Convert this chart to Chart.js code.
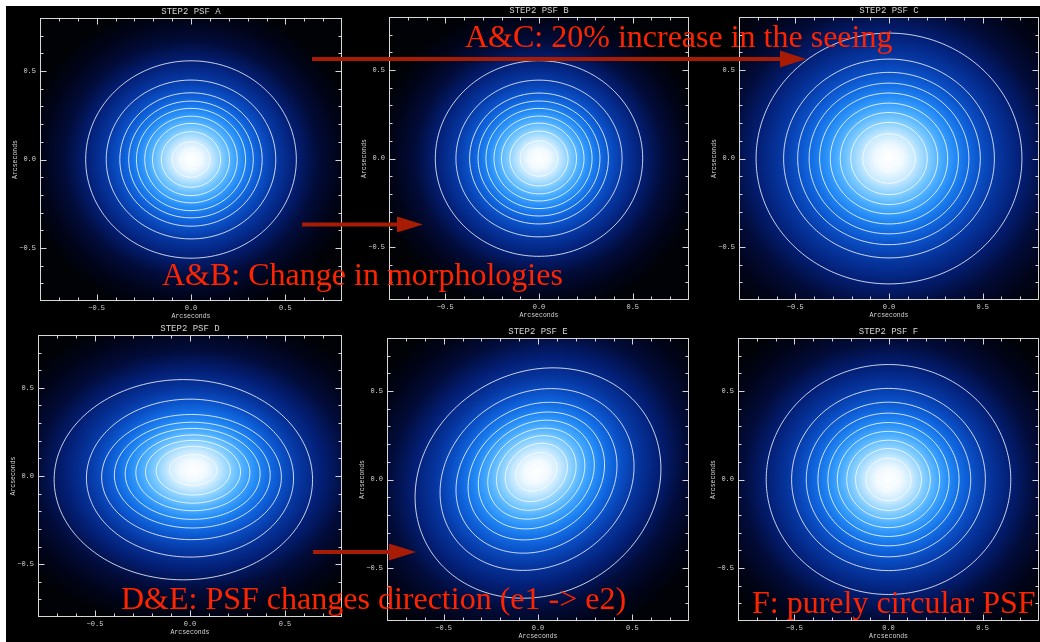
<!DOCTYPE html>
<html>
<head>
<meta charset="utf-8">
<script src="https://cdn.jsdelivr.net/npm/chart.js@4.4.1/dist/chart.umd.min.js"></script>
<style>
  html, body { margin: 0; padding: 0; background: #000; width: 1040px; height: 642px; overflow: hidden; }
  canvas.panel { position: absolute; }
  #edgeTop { position: absolute; left: 0; top: 0; width: 1040px; height: 6px; background: #fff; z-index: 3; }
  #edgeLeft { position: absolute; left: 0; top: 0; width: 6px; height: 642px; background: #fff; z-index: 3; }
  #notes { position: absolute; left: 0; top: 0; z-index: 2; }
  #notes text { font-family: "Liberation Serif", "Times New Roman", serif; font-size: 32px; fill: #ff2400; }
</style>
</head>
<body>
<div id="edgeTop"></div>
<div id="edgeLeft"></div>

<svg id="notes" width="1040" height="642">
  <g fill="#a81c06" stroke="none">
    <rect x="312" y="57" width="470" height="4"/>
    <polygon points="780,50.5 806,59 780,67.5"/>
    <rect x="302" y="222.5" width="97" height="4"/>
    <polygon points="397,216.5 423,224.5 397,232.5"/>
    <rect x="313" y="550" width="78" height="4"/>
    <polygon points="389,543.5 416,552 389,560.5"/>
  </g>
  <text x="465" y="47">A&amp;C: 20% increase in the seeing</text>
  <text x="162" y="285">A&amp;B: Change in morphologies</text>
  <text x="121" y="609">D&amp;E: PSF changes direction (e1 -&gt; e2)</text>
  <text x="752" y="613">F: purely circular PSF</text>
</svg>

<script>
// PSF panels, axes in arcseconds
const panelLabels = ['A', 'B', 'C', 'D', 'E', 'F'];
const axisMin = -0.8;
const axisMax = 0.8;
const majorTicks = [-0.5, 0, 0.5];
const minorTicks = [-0.7, -0.6, -0.5, -0.4, -0.3, -0.2, -0.1, 0, 0.1, 0.2, 0.3, 0.4, 0.5, 0.6, 0.7];

// peak position of each PSF (arcsec)
const peakX = [0, 0, 0, 0.018, -0.009, 0];
const peakY = [0, 0, 0, 0.034, 0.043, 0];

// contour radii, outermost first (arcsec)
const ringsA = [0.558, 0.449, 0.377, 0.330, 0.289, 0.245, 0.204, 0.157, 0.100];
const ringsB = [0.553, 0.443, 0.370, 0.325, 0.283, 0.240, 0.200, 0.155, 0.100];
const ringsC = [0.709, 0.562, 0.487, 0.426, 0.370, 0.313, 0.260, 0.204, 0.140];
const ringsF = [0.650, 0.515, 0.437, 0.375, 0.322, 0.272, 0.222, 0.175, 0.120];

// PSF D: e1 elongation, half-widths along x / y and ring centres
const ringsDx = [0.680, 0.545, 0.473, 0.410, 0.355, 0.300, 0.250, 0.195, 0.125];
const ringsDy = [0.568, 0.448, 0.355, 0.300, 0.258, 0.215, 0.178, 0.138, 0.088];
const ringsDcx = [-0.035, 0.000, 0.008, 0.012, 0.014, 0.015, 0.016, 0.017, 0.017];
const ringsDcy = [-0.021, -0.012, -0.006, 0.005, 0.012, 0.018, 0.024, 0.030, 0.034];

// PSF E: e2 elongation, half-axes along / across the 45 degree diagonal
const tiltE = 45;
const ringsEa = [0.690, 0.550, 0.460, 0.392, 0.334, 0.280, 0.230, 0.180, 0.120];
const ringsEb = [0.610, 0.475, 0.390, 0.328, 0.278, 0.232, 0.190, 0.148, 0.098];
const ringsEcx = [0.000, -0.005, -0.008, -0.009, -0.009, -0.009, -0.009, -0.009, -0.009];
const ringsEcy = [-0.020, 0.000, 0.010, 0.020, 0.028, 0.033, 0.037, 0.040, 0.043];

// plot boxes on the page (chart area edges, px)
const boxes = [
  { left: 40, top: 18, right: 342, bottom: 301 },
  { left: 389, top: 17, right: 689, bottom: 300 },
  { left: 739, top: 17, right: 1039, bottom: 300 },
  { left: 38, top: 335, right: 342, bottom: 617 },
  { left: 387, top: 338, right: 689, bottom: 621 },
  { left: 738, top: 338, right: 1039, bottom: 621 }
];

const axisColor = '#d6d6d6';
const lineColor = 'rgba(255,255,255,0.8)';
const monoFont = '"Liberation Mono", "DejaVu Sans Mono", monospace';

// colour ramp of the image, radius in units of the outer contour
const glowReach = 1.6;
const glowStops = [
  [0, '#ffffff'], [0.1, '#f2faff'], [0.2, '#c4e8ff'], [0.3, '#80ccff'],
  [0.4, '#46aaff'], [0.5, '#2288f4'], [0.6, '#1168e0'], [0.7, '#0a4ec4'],
  [0.82, '#0636a0'], [1.0, '#031e74'], [1.2, '#020c3a'], [1.4, '#01041a'],
  [1.6, '#000206']
];

function ringList(i) {
  const label = panelLabels[i];
  const out = [];
  if (label === 'D') {
    ringsDx.forEach((a, k) => out.push({ cx: ringsDcx[k], cy: ringsDcy[k], a, b: ringsDy[k], angle: 0 }));
  } else if (label === 'E') {
    ringsEa.forEach((a, k) => out.push({ cx: ringsEcx[k], cy: ringsEcy[k], a, b: ringsEb[k], angle: tiltE }));
  } else {
    const r = { A: ringsA, B: ringsB, C: ringsC, F: ringsF }[label];
    r.forEach(v => out.push({ cx: peakX[i], cy: peakY[i], a: v, b: v, angle: 0 }));
  }
  return out;
}

function outline(ring) {
  const pts = [];
  const th = ring.angle * Math.PI / 180;
  for (let k = 0; k <= 120; k++) {
    const t = k / 120 * 2 * Math.PI;
    const u = ring.a * Math.cos(t), v = ring.b * Math.sin(t);
    pts.push({ x: ring.cx + u * Math.cos(th) - v * Math.sin(th), y: ring.cy + u * Math.sin(th) + v * Math.cos(th) });
  }
  return pts;
}

// blue glow of the PSF image under the contours
const psfGlow = {
  id: 'psfGlow',
  beforeDatasetsDraw(chart, args, opts) {
    const { ctx, chartArea: ca, scales: { x, y } } = chart;
    ctx.save();
    ctx.beginPath();
    ctx.rect(ca.left, ca.top, ca.right - ca.left, ca.bottom - ca.top);
    ctx.clip();
    ctx.fillStyle = '#000';
    ctx.fillRect(ca.left, ca.top, ca.right - ca.left, ca.bottom - ca.top);
    const kx = x.getPixelForValue(1) - x.getPixelForValue(0);
    const ky = y.getPixelForValue(0) - y.getPixelForValue(1);
    ctx.translate(x.getPixelForValue(opts.x), y.getPixelForValue(opts.y));
    ctx.scale(kx, -ky);
    ctx.rotate(opts.angle * Math.PI / 180);
    ctx.scale(opts.a, opts.b);
    const g = ctx.createRadialGradient(0, 0, 0, 0, 0, glowReach);
    glowStops.forEach(([t, c]) => g.addColorStop(t / glowReach, c));
    ctx.fillStyle = g;
    ctx.fillRect(-20, -20, 40, 40);
    ctx.restore();
  }
};

// box frame with inward ticks on all four sides, title over the box
const frameTicks = {
  id: 'frameTicks',
  afterDatasetsDraw(chart, args, opts) {
    const { ctx, chartArea: ca, scales: { x, y } } = chart;
    ctx.save();
    ctx.strokeStyle = axisColor;
    ctx.lineWidth = 1;
    const l = Math.round(ca.left) + 0.5, r = Math.round(ca.right) - 0.5;
    const t = Math.round(ca.top) + 0.5, b = Math.round(ca.bottom) - 0.5;
    ctx.strokeRect(l, t, r - l, b - t);
    ctx.beginPath();
    minorTicks.forEach(v => {
      const len = majorTicks.includes(v) ? 6 : 3;
      const px = Math.round(x.getPixelForValue(v)) + 0.5;
      ctx.moveTo(px, b); ctx.lineTo(px, b - len);
      ctx.moveTo(px, t); ctx.lineTo(px, t + len);
      const py = Math.round(y.getPixelForValue(v)) + 0.5;
      ctx.moveTo(l, py); ctx.lineTo(l + len, py);
      ctx.moveTo(r, py); ctx.lineTo(r - len, py);
    });
    ctx.stroke();
    ctx.fillStyle = axisColor;
    ctx.font = '9px ' + monoFont;
    ctx.textAlign = 'center';
    ctx.textBaseline = 'middle';
    ctx.fillText(opts.text, (ca.left + ca.right) / 2, ca.top - 6);
    ctx.restore();
  }
};

function tickText(v) {
  if (v === 0) return '0.0';
  return (v < 0 ? '\u2212' : '') + Math.abs(v).toFixed(1);
}

function axis(isX) {
  return {
    type: 'linear',
    min: axisMin,
    max: axisMax,
    grid: { display: false, drawTicks: false },
    border: { display: false },
    afterBuildTicks: s => { s.ticks = majorTicks.map(v => ({ value: v })); },
    afterFit: s => { if (isX) s.height = 21; else s.width = 40; },
    ticks: {
      callback: tickText, color: axisColor, autoSkip: false, maxRotation: 0,
      font: { family: monoFont, size: 7 }, padding: isX ? 3 : 4
    },
    title: {
      display: true, text: 'Arcseconds', color: axisColor,
      font: { family: monoFont, size: 6.5 },
      padding: isX ? { top: 0, bottom: 2 } : { top: 11, bottom: 0 }
    }
  };
}

panelLabels.forEach((label, i) => {
  const box = boxes[i];
  const canvas = document.createElement('canvas');
  canvas.className = 'panel';
  canvas.width = box.right - box.left + 46;
  canvas.height = box.bottom - box.top + 39;
  canvas.style.left = (box.left - 40) + 'px';
  canvas.style.top = (box.top - 18) + 'px';
  document.body.appendChild(canvas);

  const rings = ringList(i);
  const outer = rings[0];
  const datasets = rings.map(ring => ({
    data: outline(ring),
    showLine: true,
    borderColor: lineColor,
    borderWidth: 1,
    tension: 0.3,
    pointRadius: 0,
    fill: false
  }));

  new Chart(canvas, {
    type: 'scatter',
    data: { datasets },
    options: {
      responsive: false,
      animation: false,
      devicePixelRatio: 1,
      events: [],
      layout: { padding: { left: 0, right: 6, top: 18, bottom: 0 } },
      plugins: {
        legend: { display: false },
        tooltip: { enabled: false },
        title: { display: false },
        frameTicks: { text: 'STEP2 PSF ' + label },
        psfGlow: { x: peakX[i], y: peakY[i], a: outer.a, b: outer.b, angle: outer.angle }
      },
      scales: { x: axis(true), y: axis(false) }
    },
    plugins: [psfGlow, frameTicks]
  });
});
</script>
</body>
</html>
